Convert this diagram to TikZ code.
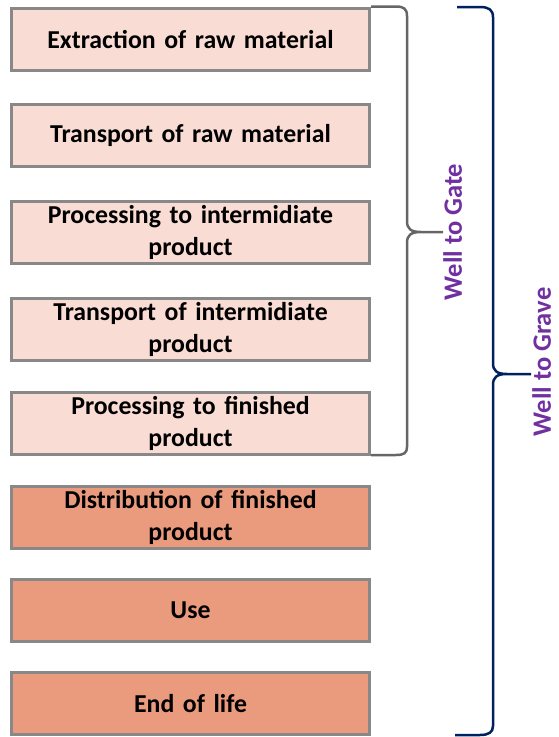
\documentclass[tikz,border=0pt]{standalone}
\usepackage{fontspec}
\setmainfont{Carlito}

\definecolor{stagelight}{HTML}{F9DCD4}
\definecolor{stagedark}{HTML}{EA9A7D}
\definecolor{stageline}{HTML}{888888}
\definecolor{gatebrace}{HTML}{666666}
\definecolor{gravebrace}{HTML}{002060}
\definecolor{spanlabel}{HTML}{7030A0}

\tikzset{
  stage/.style={draw=stageline, line width=3pt, fill=stagelight,
    minimum width=358pt, minimum height=62pt, inner sep=0pt,
    text width=340pt, align=center,
    font=\fontsize{25.8}{32}\selectfont\bfseries},
  stagelate/.style={stage, fill=stagedark},
  spantext/.style={rotate=90, anchor=south, text=spanlabel, inner sep=0pt,
    text depth=0pt, font=\fontsize{26.5}{32}\selectfont\bfseries}
}

\begin{document}
\begin{tikzpicture}[x=1pt, y=-1pt]

    % Fix the canvas to the size of the reference
    \useasboundingbox (0,0) rectangle (559,737);

    % Life cycle stages, top to bottom
    \node[stage] (extract) at (190.5,39.5) {Extraction of raw material};
    \node[stage] (transraw) at (190.5,135.5) {Transport of raw material};
    \node[stage] (procinter) at (190.5,232.5) {Processing to intermidiate\\ product};
    \node[stage] (transinter) at (190.5,329.5) {Transport of intermidiate\\ product};
    \node[stage] (procfin) at (190.5,423.5) {Processing to finished\\ product};
    \node[stagelate] (distrib) at (190.5,517) {Distribution of finished\\ product};
    \node[stagelate] (use) at (190.5,610) {Use};
    \node[stagelate] (eol) at (190.5,703.5) {End of life};

    % Tips of the two braces
    \coordinate (gatetip) at (443,232);
    \coordinate (gravetip) at (531,374);

    % Brace over the first five stages (well to gate)
    \draw[gatebrace, line width=2.5pt, line join=round]
      (371,6.5) -- (396,6.5) .. controls (404,6.5) and (407,9) .. (407,16)
      -- (407,221) .. controls (407,229) and (411,232) .. (421,232) -- (gatetip)
      (421,232) .. controls (411,232) and (407,235) .. (407,243)
      -- (407,447) .. controls (407,453) and (404,455) .. (396,455) -- (371,455);

    % Brace over all stages (well to grave)
    \draw[gravebrace, line width=2.5pt, line join=round]
      (457,7) -- (480,7) .. controls (489,7) and (493,10) .. (493,17)
      -- (493,363) .. controls (493,371) and (497,374) .. (507,374) -- (gravetip)
      (507,374) .. controls (497,374) and (493,377) .. (493,385)
      -- (493,726) .. controls (493,732) and (489,735) .. (480,735) -- (455,735);

    % Labels of the two spans (baseline on the right)
    \node[spantext] (gatelabel) at (462,232) {Well to Gate};
    \node[spantext] (gravelabel) at (551,362) {Well to Grave};

\end{tikzpicture}
\end{document}
